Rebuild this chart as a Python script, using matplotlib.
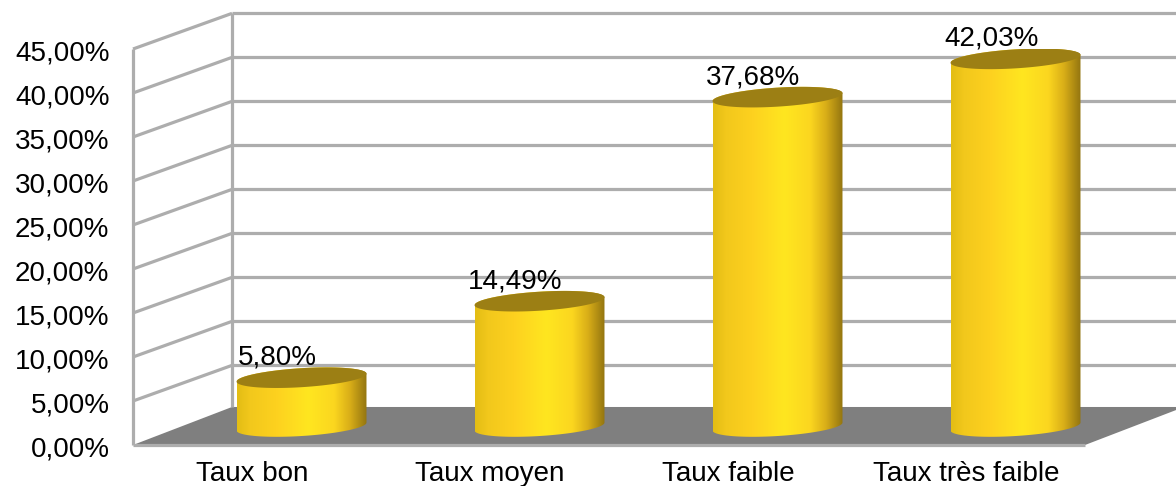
import numpy as np
import matplotlib
matplotlib.use("Agg")
import matplotlib.pyplot as plt
from matplotlib.colors import LinearSegmentedColormap
from matplotlib.patches import PathPatch, Polygon
from matplotlib.path import Path
from matplotlib.transforms import ScaledTranslation

# data
categories = ["Taux bon", "Taux moyen", "Taux faible", "Taux très faible"]
values = [5.80, 14.49, 37.68, 42.03]
value_labels = ["5,80%", "14,49%", "37,68%", "42,03%"]
y_ticks = [0, 5, 10, 15, 20, 25, 30, 35, 40, 45]
y_labels = ["0,00%", "5,00%", "10,00%", "15,00%", "20,00%",
            "25,00%", "30,00%", "35,00%", "40,00%", "45,00%"]

# 3d look, all in data units
depth_x = 0.416
depth_y = 4.05
floor_depth = 4.32
base = 1.85
foot = 2.1
half_w = 0.273
minor = 1.08
shear = 0.45

grid_col = "#adadad"
floor_col = "#7f7f7f"
top_col = "#9c7f14"

plt.rcParams["font.family"] = ["Liberation Sans", "DejaVu Sans"]

fig = plt.figure(figsize=(11.76, 4.86), dpi=100)
ax = fig.add_axes([133 / 1176, 41 / 486, 952 / 1176, 396 / 486])
ax.set_xlim(-0.5, 3.5)
ax.set_ylim(0, 45)
for sp in ax.spines.values():
    sp.set_visible(False)

ax.set_xticks(range(4))
ax.set_xticklabels(categories, fontsize=20)
ax.set_yticks(y_ticks)
ax.set_yticklabels(y_labels, fontsize=20)
ax.tick_params(axis="both", length=0)
ax.tick_params(axis="y", pad=17)
ax.tick_params(axis="x", pad=11.5)
down = ScaledTranslation(0, -1.3 / 72, fig.dpi_scale_trans)
for lab in ax.get_yticklabels():
    lab.set_transform(lab.get_transform() + down)

x0, x1 = -0.5, 3.5

# floor
ax.add_patch(Polygon([(x0, 0), (x0 + depth_x, floor_depth), (x1 + depth_x, floor_depth), (x1, 0)],
                     closed=True, fc=floor_col, ec="none", zorder=1, clip_on=False))

# walls
line = dict(color=grid_col, lw=2.3, zorder=2, clip_on=False, solid_capstyle="butt")
ax.plot([x0, x1], [0, 0], **line)
ax.plot([x0, x0], [0, 45], **line)
ax.plot([x0 + depth_x, x0 + depth_x], [floor_depth, 45 + depth_y], **line)
for y in y_ticks[1:]:
    ax.plot([x0, x0 + depth_x], [y, y + depth_y], **line)
    ax.plot([x0 + depth_x, x1 + depth_x], [y + depth_y, y + depth_y], **line)

# cylinders
cmap = LinearSegmentedColormap.from_list("gold", [
    (0.00, "#e3bd14"), (0.10, "#f2c81c"), (0.30, "#fdd11f"), (0.55, "#ffe620"),
    (0.75, "#fbd61f"), (0.87, "#d9ae18"), (1.00, "#937510")])
grad = np.linspace(0, 1, 256).reshape(1, -1)
t = np.linspace(0, 2 * np.pi, 121)

for i, v in enumerate(values):
    cx = i + depth_x / 2
    top = v + base

    # outline: bottom arc from left to right, then the far side of the top ellipse
    tb = np.linspace(np.pi, 2 * np.pi, 60)
    low_x = cx + half_w * np.cos(tb)
    low_y = foot + minor * np.sin(tb) + shear * np.cos(tb)
    tt = np.linspace(0, np.pi, 60)
    up_x = cx + half_w * np.cos(tt)
    up_y = top + minor * np.sin(tt) + shear * np.cos(tt)
    verts = np.column_stack([np.r_[low_x, up_x], np.r_[low_y, up_y]])
    body = PathPatch(Path(np.vstack([verts, verts[0]])), fc="none", ec="none",
                     transform=ax.transData)
    ax.add_patch(body)
    im = ax.imshow(grad, cmap=cmap, aspect="auto", zorder=3,
                   extent=[cx - half_w, cx + half_w, foot - 3, top + 3])
    im.set_clip_path(body)

    ax.add_patch(Polygon(np.column_stack([cx + half_w * np.cos(t),
                                          top + minor * np.sin(t) + shear * np.cos(t)]),
                         closed=True, fc=top_col, ec="none", zorder=4))

    ax.annotate(value_labels[i], (cx, top), xytext=(-24, 20), textcoords="offset pixels",
                ha="center", va="center", fontsize=20, color="black", zorder=5,
                annotation_clip=False)

# imshow resets the limits
ax.set_xlim(-0.5, 3.5)
ax.set_ylim(0, 45)

fig.savefig("out.png", dpi=100, facecolor="white")
